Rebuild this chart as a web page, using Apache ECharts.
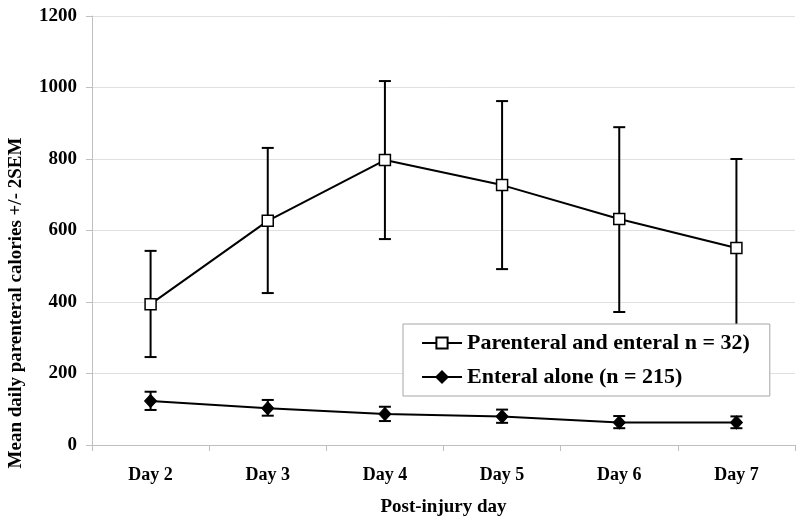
<!DOCTYPE html>
<html><head><meta charset="utf-8">
<script src="https://cdn.jsdelivr.net/npm/echarts@6/dist/echarts.min.js"></script>
<style>html,body{margin:0;padding:0;background:#fff}#c{width:800px;height:524px}</style>
</head><body><div id="c"></div>
<script>
var categories = ['Day 2','Day 3','Day 4','Day 5','Day 6','Day 7'];
var parenteralName = 'Parenteral and enteral n = 32)';
var enteralName = 'Enteral alone (n = 215)';
var parenteralMean = [394, 627, 797, 727, 632, 551];
var parenteralLow  = [246, 425, 576, 492, 372, 302];
var parenteralHigh = [543, 831, 1018, 962, 889, 800];
var enteralMean = [123, 103, 87, 80, 63, 63];
var enteralLow  = [98, 82, 67, 62, 47, 47];
var enteralHigh = [149, 126, 107, 99, 81, 80];
var yTicks = [0, 200, 400, 600, 800, 1000, 1200];
var yAxisTitle = 'Mean daily parenteral calories +/- 2SEM';
var xAxisTitle = 'Post-injury day';

var FONT = '"Liberation Serif", "Times New Roman", serif';

function errData(lo, hi) {
  return lo.map(function (v, i) { return [i, v, hi[i]]; });
}
function errRender(params, api) {
  var x = api.value(0);
  var lo = api.coord([x, api.value(1)]);
  var hi = api.coord([x, api.value(2)]);
  var hw = 6;
  var st = { stroke: '#000', lineWidth: 2 };
  return {
    type: 'group',
    children: [
      { type: 'line', shape: { x1: lo[0], y1: lo[1], x2: hi[0], y2: hi[1] }, style: st },
      { type: 'line', shape: { x1: lo[0] - hw, y1: lo[1], x2: lo[0] + hw, y2: lo[1] }, style: st },
      { type: 'line', shape: { x1: hi[0] - hw, y1: hi[1], x2: hi[0] + hw, y2: hi[1] }, style: st }
    ]
  };
}

var chart = echarts.init(document.getElementById('c'));
chart.setOption({
  animation: false,
  backgroundColor: '#fff',
  grid: { left: 92, right: 5, top: 16, bottom: 79 },
  graphic: [{
    type: 'text', z: 5,
    x: 16, y: 303, rotation: Math.PI / 2,
    style: { text: yAxisTitle, fontFamily: FONT, fontWeight: 'bold', fontSize: 19, fill: '#000',
      align: 'center', verticalAlign: 'middle' }
  }],
  legend: {
    data: [parenteralName, enteralName],
    orient: 'vertical',
    left: 403, top: 324,
    padding: [8, 20, 8, 18],
    itemGap: 12,
    itemWidth: 40, itemHeight: 14,
    backgroundColor: '#fff',
    borderColor: '#a6a6a6', borderWidth: 1,
    textStyle: { fontFamily: FONT, fontWeight: 'bold', fontSize: 22, color: '#000' },
    z: 10
  },
  xAxis: {
    type: 'category',
    data: categories,
    boundaryGap: true,
    name: xAxisTitle,
    nameLocation: 'middle',
    nameGap: 53,
    nameTextStyle: { fontFamily: FONT, fontWeight: 'bold', fontSize: 19, color: '#000' },
    axisLine: { lineStyle: { color: '#bfbfbf', width: 1 } },
    axisTick: { show: true, length: 6, alignWithLabel: false, lineStyle: { color: '#bfbfbf' } },
    axisLabel: { fontFamily: FONT, fontWeight: 'bold', fontSize: 18, color: '#000', margin: 21 },
    splitLine: { show: false }
  },
  yAxis: {
    type: 'value',
    min: 0, max: 1200, interval: 200,
    axisLine: { show: true, lineStyle: { color: '#bfbfbf', width: 1 } },
    axisTick: { show: true, length: 6, lineStyle: { color: '#bfbfbf' } },
    axisLabel: { fontFamily: FONT, fontWeight: 'bold', fontSize: 19, color: '#000', margin: 15,
      formatter: function (v) { return yTicks.indexOf(v) >= 0 ? String(v) : ''; } },
    splitLine: { show: true, lineStyle: { color: '#e0e0e0', width: 1 } }
  },
  series: [
    { type: 'custom', name: 'errP', renderItem: errRender, data: errData(parenteralLow, parenteralHigh), z: 1, silent: true },
    { type: 'custom', name: 'errE', renderItem: errRender, data: errData(enteralLow, enteralHigh), z: 1, silent: true },
    {
      type: 'line', name: parenteralName, data: parenteralMean, z: 3,
      symbol: 'rect', symbolSize: 11, showAllSymbol: true,
      lineStyle: { color: '#000', width: 2 },
      itemStyle: { color: '#fff', borderColor: '#000', borderWidth: 1.5 }
    },
    {
      type: 'line', name: enteralName, data: enteralMean, z: 3,
      symbol: 'diamond', symbolSize: [12, 13], showAllSymbol: true,
      lineStyle: { color: '#000', width: 2 },
      itemStyle: { color: '#000', borderColor: '#000', borderWidth: 1 }
    }
  ]
});
</script></body></html>
